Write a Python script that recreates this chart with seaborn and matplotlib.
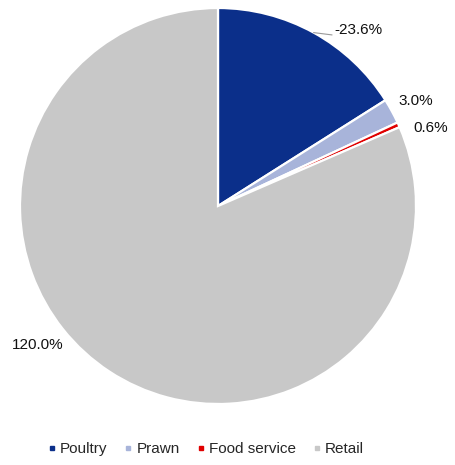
import numpy as np
import matplotlib
matplotlib.use("Agg")
import matplotlib.pyplot as plt
from matplotlib.lines import Line2D
import seaborn as sns

# Segment data
categories = ["Poultry", "Prawn", "Food service", "Retail"]
changes = [-23.6, 3.0, 0.6, 120.0]
palette = ["#0B2F8A", "#A8B4DA", "#E00000", "#C8C8C8"]

sns.set_theme(style="white")
plt.rcParams["font.family"] = ["Liberation Sans", "DejaVu Sans"]

W, H, DPI = 456, 465, 100
fig = plt.figure(figsize=(W / DPI, H / DPI), dpi=DPI)

# Pie centre (218, 206) px from top-left, radius 198 px
cx, cy, r = 218, 206, 198
ax = fig.add_axes([(cx - r) / W, (H - cy - r) / H, 2 * r / W, 2 * r / H])

sizes = np.abs(changes)
wedges, _ = ax.pie(
    sizes,
    colors=palette,
    startangle=90,
    counterclock=False,
    wedgeprops=dict(edgecolor="white", linewidth=1.6),
)
ax.set_xlim(-1, 1)
ax.set_ylim(-1, 1)
ax.set_aspect("equal")

labels = [f"{v:.1f}%" for v in changes]
fs = 11
txt_color = "#111111"

# Poultry label with leader line from the slice's mid-angle
w0 = wedges[0]
mid = np.deg2rad((w0.theta1 + w0.theta2) / 2)
edge = (np.cos(mid), np.sin(mid))
ax.plot([edge[0], 0.576], [edge[1], 0.864], color="#999999", lw=0.8, clip_on=False)
ax.text(0.586, 0.889, labels[0], ha="left", va="center", fontsize=fs, color=txt_color)

ax.text(0.909, 0.530, labels[1], ha="left", va="center", fontsize=fs, color=txt_color)
ax.text(0.985, 0.394, labels[2], ha="left", va="center", fontsize=fs, color=txt_color)
ax.text(-0.909, -0.702, labels[3], ha="center", va="center", fontsize=fs, color=txt_color)

handles = [
    Line2D([], [], marker="s", linestyle="none", markersize=3.2,
           markerfacecolor=c, markeredgecolor=c)
    for c in palette
]
fig.legend(
    handles, categories,
    loc="center", bbox_to_anchor=(206 / W, 1 - 449 / H),
    ncol=4, frameon=False, fontsize=fs,
    handlelength=0.5, handletextpad=0.3, columnspacing=1.1,
)

fig.savefig("out.png", dpi=DPI)
